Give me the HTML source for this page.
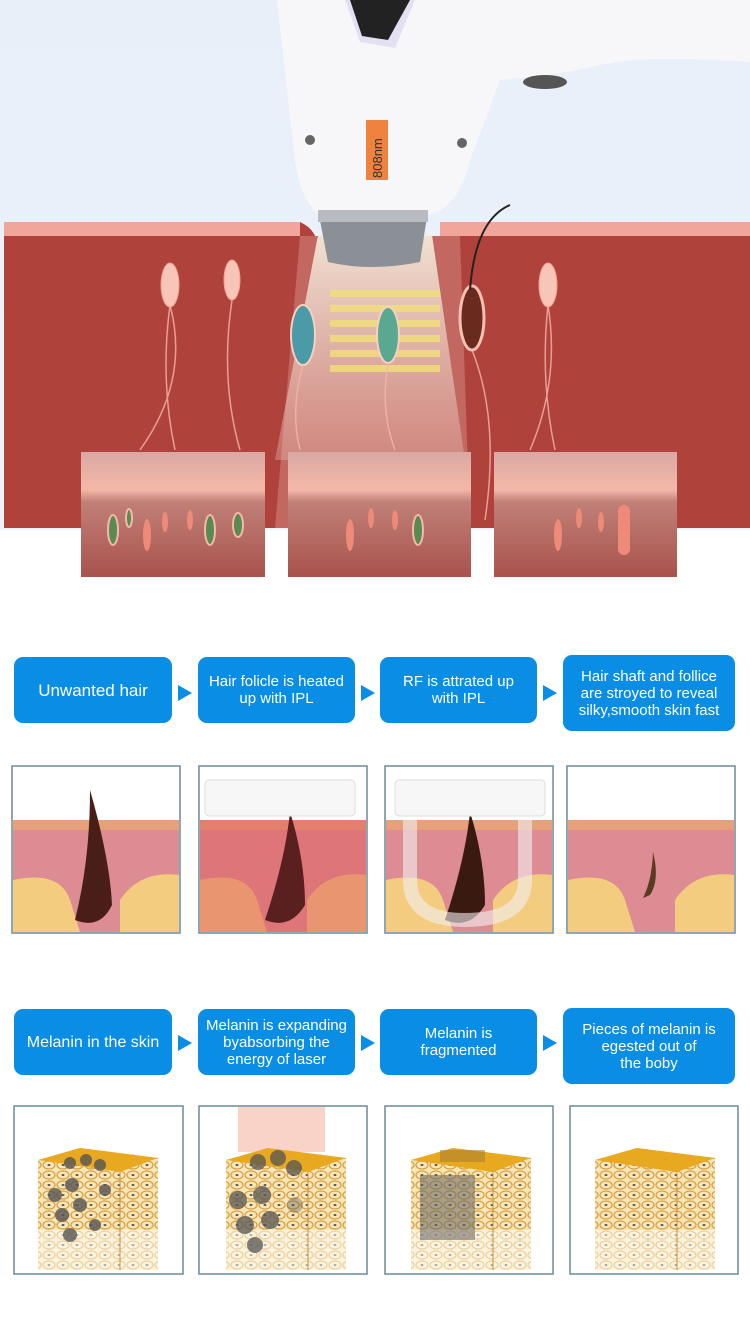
<!DOCTYPE html>
<html><head><meta charset="utf-8"><style>
body{margin:0;width:750px;height:1338px;background:#fff;position:relative;overflow:hidden;font-family:"Liberation Sans",sans-serif}
.b{position:absolute;background:#0a8de4;color:#fff;border-radius:9px;display:flex;align-items:center;justify-content:center;text-align:center;font-size:15px;line-height:17px}
.ar{position:absolute;width:0;height:0;border-top:8px solid transparent;border-bottom:8px solid transparent;border-left:14px solid #0a8de4}
</style></head><body>
<svg width="750" height="1338" style="position:absolute;left:0;top:0">
<defs>
<linearGradient id="bg" x1="0" y1="0" x2="0" y2="1"><stop offset="0" stop-color="#e8eff9"/><stop offset="1" stop-color="#eef3fa"/></linearGradient>
<linearGradient id="cone" x1="0" y1="0" x2="0" y2="1"><stop offset="0" stop-color="#f4f0e0" stop-opacity=".9"/><stop offset="1" stop-color="#f0d0c8" stop-opacity=".3"/></linearGradient>
<linearGradient id="ins" x1="0" y1="0" x2="0" y2="1"><stop offset="0" stop-color="#d9a8a2"/><stop offset=".3" stop-color="#f4b8a8"/><stop offset=".4" stop-color="#c08078"/><stop offset="1" stop-color="#a8534c"/></linearGradient>
<linearGradient id="cube" x1="0" y1="0" x2="0" y2="1"><stop offset="0" stop-color="#f0d890"/><stop offset=".8" stop-color="#e8c478"/><stop offset="1" stop-color="#fff"/></linearGradient>
<pattern id="cells" width="14" height="10" patternUnits="userSpaceOnUse"><rect width="14" height="10" fill="#f8e6b8"/><ellipse cx="7" cy="5" rx="6" ry="4" fill="none" stroke="#d9a040" stroke-width="1.2"/><ellipse cx="7" cy="5" rx="1.5" ry="1" fill="#555"/></pattern>
</defs>
<rect x="0" y="0" width="750" height="530" fill="url(#bg)"/>
<path d="M4 222 L300 222 Q318 230 318 250 L300 528 L4 528Z" fill="#b0423c"/>
<path d="M440 222 L750 222 L750 528 L450 528 L440 250Z" fill="#b0423c"/>
<rect x="4" y="222" width="296" height="14" fill="#f1a69c"/>
<rect x="440" y="222" width="310" height="14" fill="#f1a69c"/>
<path d="M300 236 L460 236 L470 528 L275 528Z" fill="#c26860"/>
<path d="M318 235 L432 235 L465 460 L275 460Z" fill="url(#cone)"/>
<g fill="#f2e07a" opacity=".8">
<rect x="330" y="290" width="110" height="7"/><rect x="330" y="305" width="110" height="7"/><rect x="330" y="320" width="110" height="7"/><rect x="330" y="335" width="110" height="7"/><rect x="330" y="350" width="110" height="7"/><rect x="330" y="365" width="110" height="7"/>
</g>
<g fill="#f7c6b8" stroke="#f0a090" stroke-width="1">
<ellipse cx="170" cy="285" rx="9" ry="22"/><ellipse cx="232" cy="280" rx="8" ry="20"/><ellipse cx="548" cy="285" rx="9" ry="22"/>
</g>
<ellipse cx="303" cy="335" rx="12" ry="30" fill="#4a9aa8" stroke="#f7d0c0" stroke-width="2"/>
<ellipse cx="388" cy="335" rx="11" ry="28" fill="#5aa890" stroke="#f7d0c0" stroke-width="2"/>
<ellipse cx="472" cy="318" rx="12" ry="32" fill="#6a2a1e" stroke="#f7c0b0" stroke-width="3"/>
<path d="M470 290 Q475 220 510 205" stroke="#222" stroke-width="2" fill="none"/>
<g stroke="#f4b8a8" stroke-width="1.5" fill="none" opacity=".8">
<path d="M170 305 Q160 380 175 450 M170 305 Q190 380 140 450"/><path d="M232 300 Q220 380 240 450"/><path d="M548 305 Q540 380 555 450 M548 305 Q560 380 530 450"/><path d="M303 365 Q290 410 300 450"/><path d="M388 365 Q380 410 395 450"/><path d="M472 350 Q500 420 485 520"/>
</g>
<path d="M277 0 L750 0 L750 62 Q640 55 600 65 Q560 75 500 80 L470 160 Q460 205 430 215 L320 215 Q300 200 295 160 Z" fill="#f7f7fa"/>
<path d="M345 0 L415 0 L395 48 L360 42Z" fill="#e4e0f4"/>
<path d="M350 0 L410 0 L388 40 L362 36Z" fill="#222"/>
<rect x="366" y="120" width="22" height="60" fill="#f0823f"/>
<text transform="translate(382 178) rotate(-90)" font-size="13" fill="#333">808nm</text>
<circle cx="310" cy="140" r="5" fill="#666"/><circle cx="462" cy="143" r="5" fill="#666"/>
<ellipse cx="545" cy="82" rx="22" ry="7" fill="#555"/>
<path d="M318 210 L428 210 L420 262 Q370 272 328 262Z" fill="#8b8f96"/>
<rect x="318" y="210" width="110" height="12" fill="#b8bcc0"/>
<g>
<rect x="81" y="452" width="184" height="125" fill="url(#ins)"/>
<rect x="288" y="452" width="183" height="125" fill="url(#ins)"/>
<rect x="494" y="452" width="183" height="125" fill="url(#ins)"/>
<g fill="#5a8a50" stroke="#f4b8a8" stroke-width="2"><ellipse cx="113" cy="530" rx="5" ry="15"/><ellipse cx="210" cy="530" rx="5" ry="15"/><ellipse cx="238" cy="525" rx="5" ry="12"/><ellipse cx="129" cy="518" rx="3" ry="9"/><ellipse cx="418" cy="530" rx="5" ry="15"/></g>
<g fill="#f08a78"><ellipse cx="147" cy="535" rx="4" ry="16"/><ellipse cx="165" cy="522" rx="3" ry="10"/><ellipse cx="190" cy="520" rx="3" ry="10"/><ellipse cx="350" cy="535" rx="4" ry="16"/><ellipse cx="371" cy="518" rx="3" ry="10"/><ellipse cx="395" cy="520" rx="3" ry="10"/><ellipse cx="558" cy="535" rx="4" ry="16"/><ellipse cx="579" cy="518" rx="3" ry="10"/><ellipse cx="601" cy="522" rx="3" ry="10"/><rect x="618" y="505" width="12" height="50" rx="6"/></g>
</g>
<g stroke="#6a8a9a" stroke-width="1.5">
<rect x="12" y="766" width="168" height="167" fill="#fff"/><rect x="199" y="766" width="168" height="167" fill="#fff"/><rect x="385" y="766" width="168" height="167" fill="#fff"/><rect x="567" y="766" width="168" height="167" fill="#fff"/>
</g>
<g>
<g id="sk"><rect x="13" y="820" width="166" height="112" fill="#dc8c92"/><rect x="13" y="820" width="166" height="10" fill="#e6a07a"/><path d="M13 880 Q60 870 70 900 L80 932 L13 932Z M120 900 Q140 870 179 875 L179 932 L120 932Z" fill="#f3cc80"/></g>
<use href="#sk" x="187"/><use href="#sk" x="373"/><use href="#sk" x="555"/>
<path d="M90 790 Q110 860 112 905 Q100 930 75 920 Q90 860 90 790Z" fill="#4a1e18"/>
<rect x="200" y="820" width="166" height="112" fill="#e06060" opacity=".5"/>
<path d="M290 812 Q305 860 305 905 Q290 930 265 920 Q285 860 290 812Z" fill="#5a2020"/>
<rect x="205" y="780" width="150" height="36" rx="4" fill="#f7f7f7" stroke="#ddd"/>
<path d="M470 812 Q485 860 485 905 Q470 930 445 920 Q465 860 470 812Z" fill="#3a1a10"/>
<path d="M410 820 L410 880 Q410 920 465 920 Q525 920 525 880 L525 820" stroke="#f2eef0" stroke-width="14" fill="none" opacity=".6"/>
<rect x="395" y="780" width="150" height="36" rx="4" fill="#f7f7f7" stroke="#ddd"/>
<path d="M653 852 Q660 880 650 895 L643 898 Q652 880 653 852Z" fill="#5a3a20"/>
</g>
<g stroke="#6a8a9a" stroke-width="1.5" fill="#fff">
<rect x="14" y="1106" width="169" height="168"/><rect x="199" y="1106" width="168" height="168"/><rect x="385" y="1106" width="168" height="168"/><rect x="570" y="1106" width="168" height="168"/>
</g>
<rect x="238" y="1107" width="87" height="45" fill="#f6c0b0" opacity=".7"/>
<g>
<g id="cb"><path d="M38 1160 L80 1148 L158 1158 L158 1270 L38 1270Z" fill="url(#cells)"/><path d="M38 1230 L158 1230 L158 1272 L38 1272Z" fill="#fff" opacity=".5"/><path d="M38 1160 L80 1148 L158 1158 L120 1172Z" fill="#e8a820"/><path d="M120 1172 L120 1270" stroke="#c89040" stroke-width="1"/></g>
<use href="#cb" x="188"/><use href="#cb" x="373"/><use href="#cb" x="557"/>
<g fill="#555" opacity=".8"><circle cx="70" cy="1163" r="6"/><circle cx="86" cy="1160" r="6"/><circle cx="100" cy="1165" r="6"/><circle cx="55" cy="1195" r="7"/><circle cx="72" cy="1185" r="7"/><circle cx="62" cy="1215" r="7"/><circle cx="80" cy="1205" r="7"/><circle cx="70" cy="1235" r="7"/><circle cx="95" cy="1225" r="6"/><circle cx="105" cy="1190" r="6"/></g>
<g fill="#555" opacity=".75"><circle cx="258" cy="1162" r="8"/><circle cx="278" cy="1158" r="8"/><circle cx="294" cy="1168" r="8"/><circle cx="238" cy="1200" r="9"/><circle cx="262" cy="1195" r="9"/><circle cx="245" cy="1225" r="9"/><circle cx="270" cy="1220" r="9"/><circle cx="255" cy="1245" r="8"/><circle cx="295" cy="1205" r="8" opacity=".5"/></g>
<g fill="#666" opacity=".55"><rect x="420" y="1175" width="55" height="65"/><rect x="440" y="1150" width="45" height="12" fill="#a88030"/></g>
</g>
</svg>
<div class="b" style="left:14px;top:657px;width:158px;height:66px;font-size:17px">Unwanted hair</div>
<div class="b" style="left:198px;top:657px;width:157px;height:66px">Hair folicle is heated<br>up with IPL</div>
<div class="b" style="left:380px;top:657px;width:157px;height:66px">RF is attrated up<br>with IPL</div>
<div class="b" style="left:563px;top:655px;width:172px;height:76px">Hair shaft and follice<br>are stroyed to reveal<br>silky,smooth skin fast</div>
<div class="ar" style="left:178px;top:685px"></div><div class="ar" style="left:361px;top:685px"></div><div class="ar" style="left:543px;top:685px"></div>
<div class="b" style="left:14px;top:1009px;width:158px;height:66px;font-size:16px">Melanin in the skin</div>
<div class="b" style="left:198px;top:1009px;width:157px;height:66px">Melanin is expanding<br>byabsorbing the<br>energy of laser</div>
<div class="b" style="left:380px;top:1009px;width:157px;height:66px">Melanin is<br>fragmented</div>
<div class="b" style="left:563px;top:1008px;width:172px;height:76px">Pieces of melanin is<br>egested out of<br>the boby</div>
<div class="ar" style="left:178px;top:1035px"></div><div class="ar" style="left:361px;top:1035px"></div><div class="ar" style="left:543px;top:1035px"></div>
</body></html>
